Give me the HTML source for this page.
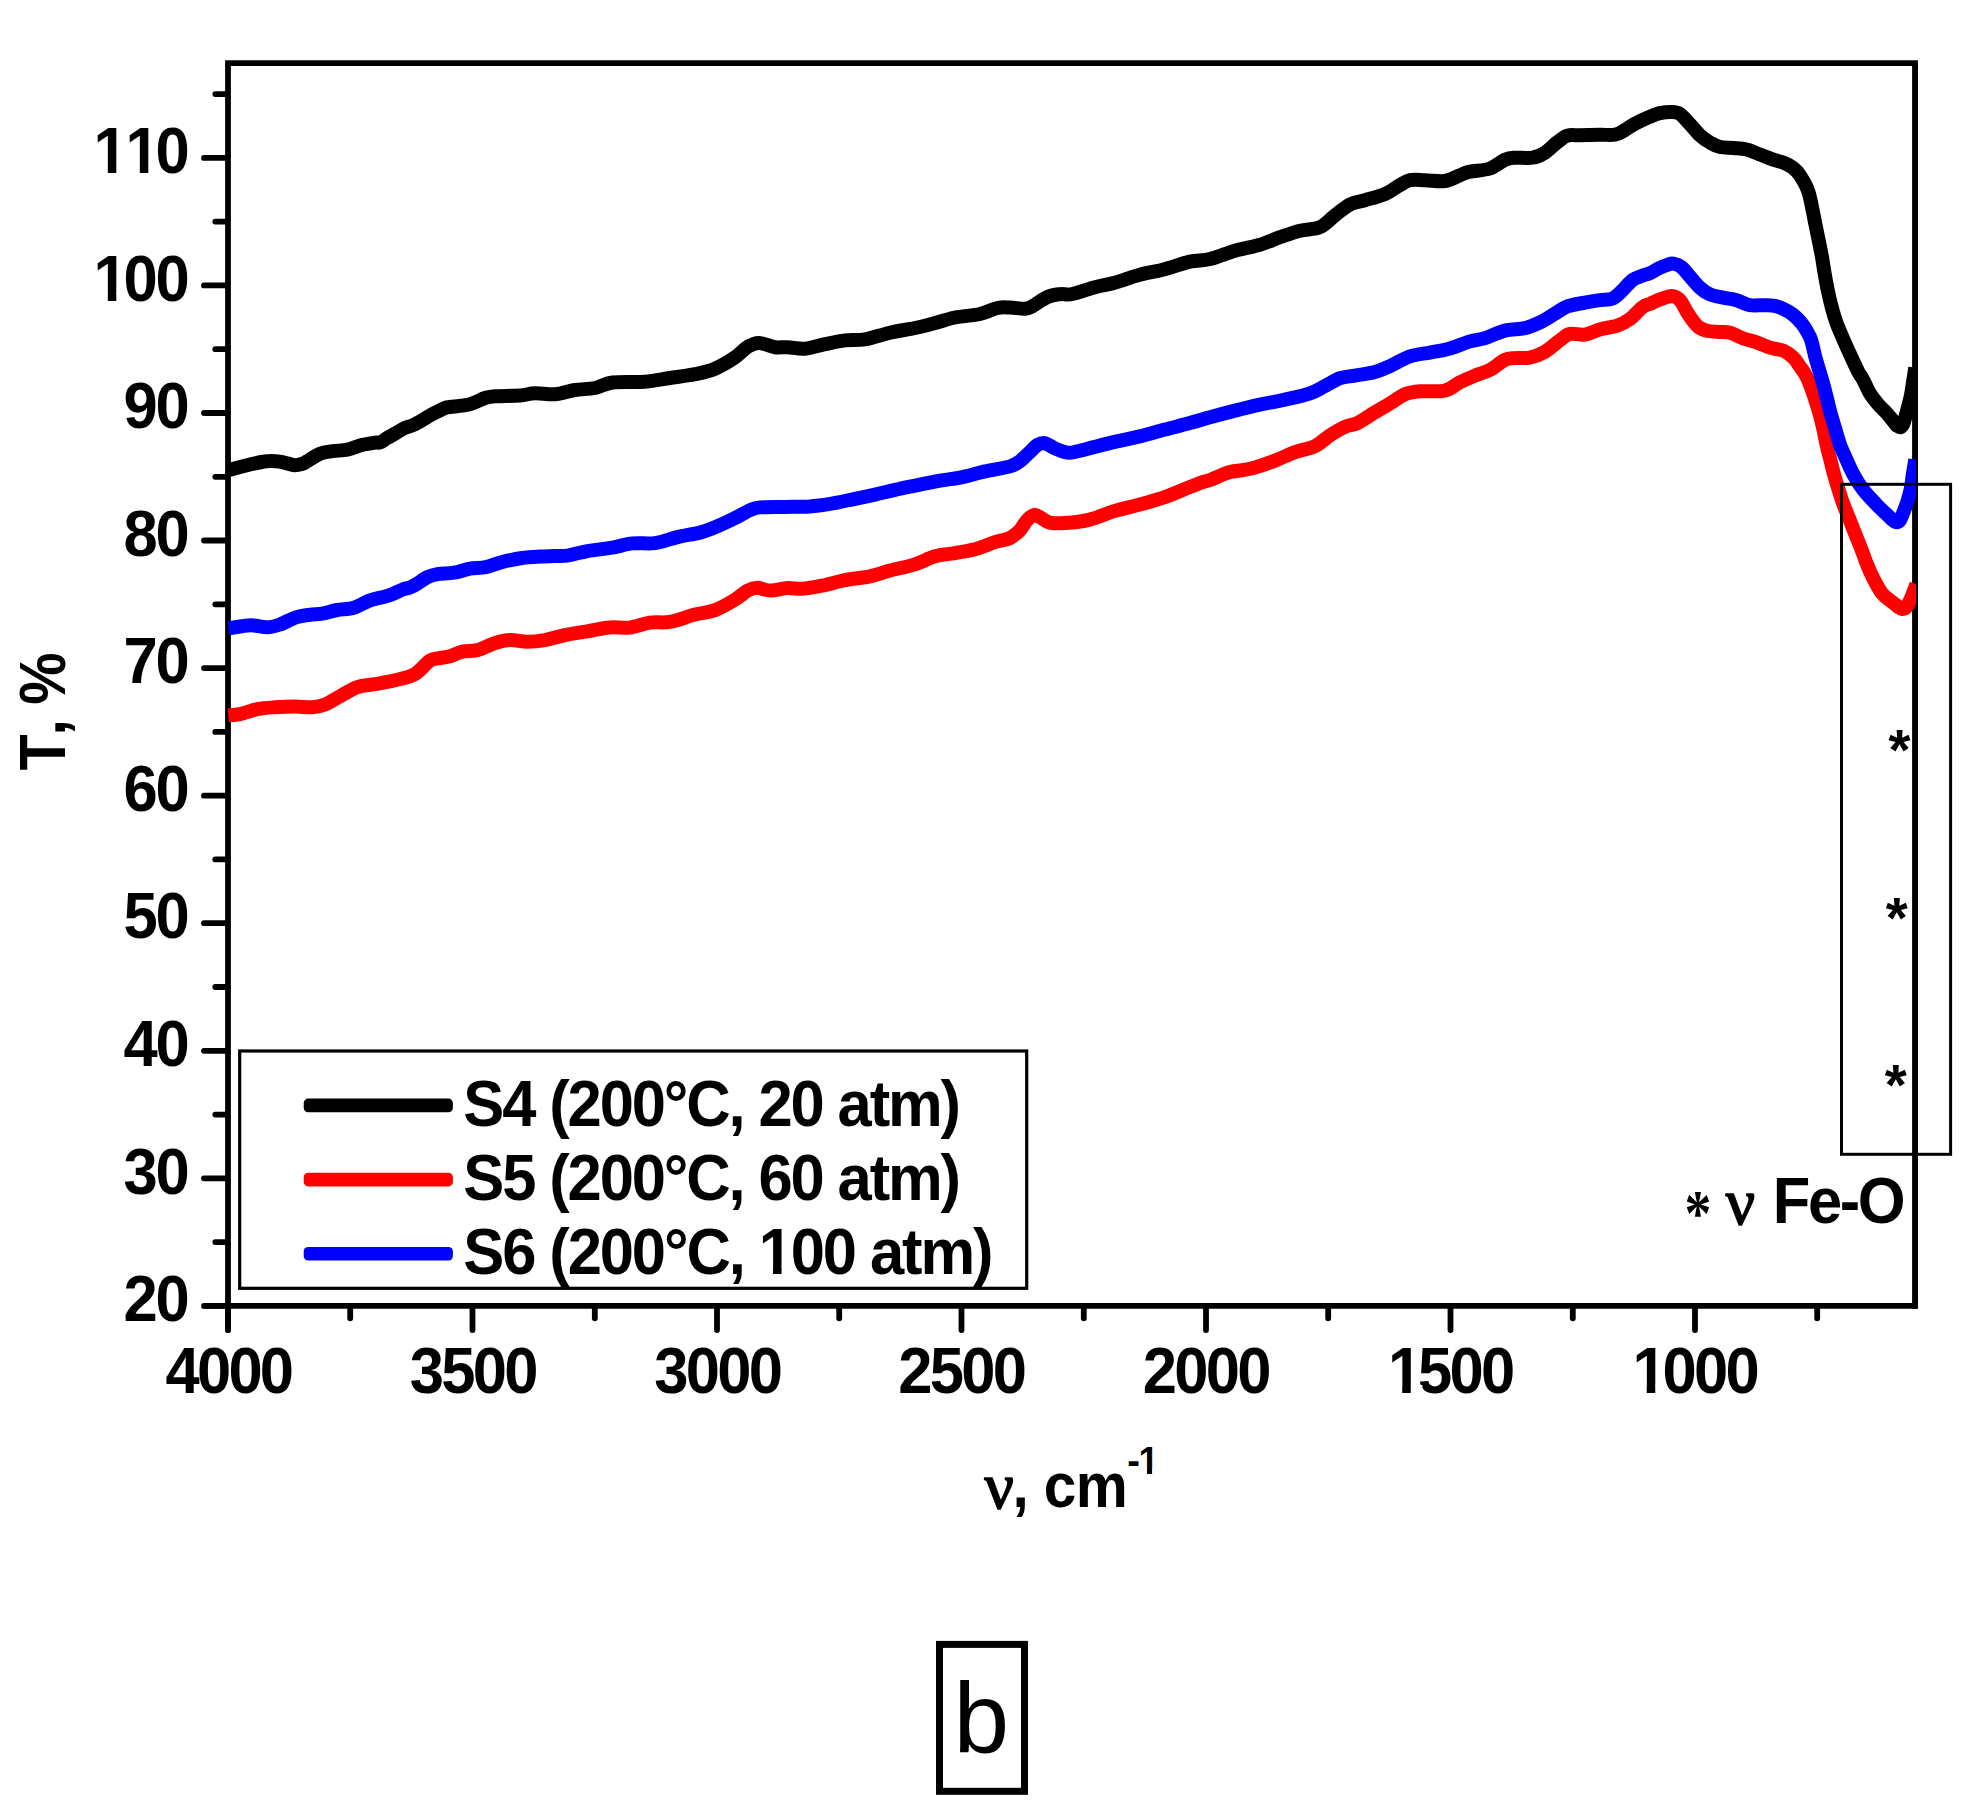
<!DOCTYPE html>
<html><head><meta charset="utf-8"><title>FTIR spectra b</title>
<style>html,body{margin:0;padding:0;background:#fff}svg{display:block}</style></head>
<body>
<svg width="1981" height="1810" viewBox="0 0 1981 1810">
<rect width="1981" height="1810" fill="#fff"/>
<defs><clipPath id="cp"><rect x="228" y="60" width="1688" height="1246"/></clipPath></defs>
<g stroke="#000" stroke-width="5.8" fill="none" stroke-linecap="round">
<path d="M228.0,63.1 V1330.2" stroke-linecap="butt"/>
<path d="M228.0,1329.9 v0.1"/>
<path d="M225.1,63.1 H1917.9" stroke-linecap="butt"/>
<path d="M1915.0,63.1 V1308.8000000000002" stroke-linecap="butt"/>
<path d="M203.8,1305.9 H1917.9" stroke-linecap="butt"/>
<path d="M204,1305.9 H227.0"/>
<path d="M204,1178.3 H227.0"/>
<path d="M204,1050.8 H227.0"/>
<path d="M204,923.2 H227.0"/>
<path d="M204,795.7 H227.0"/>
<path d="M204,668.1 H227.0"/>
<path d="M204,540.5 H227.0"/>
<path d="M204,413.0 H227.0"/>
<path d="M204,285.4 H227.0"/>
<path d="M204,157.9 H227.0"/>
<path d="M215.3,1242.1 H227.0"/>
<path d="M215.3,1114.6 H227.0"/>
<path d="M215.3,987.0 H227.0"/>
<path d="M215.3,859.4 H227.0"/>
<path d="M215.3,731.9 H227.0"/>
<path d="M215.3,604.3 H227.0"/>
<path d="M215.3,476.8 H227.0"/>
<path d="M215.3,349.2 H227.0"/>
<path d="M215.3,221.6 H227.0"/>
<path d="M215.3,94.1 H227.0"/>
<path d="M228.0,1306.9 V1330"/>
<path d="M472.5,1306.9 V1330"/>
<path d="M717.0,1306.9 V1330"/>
<path d="M961.5,1306.9 V1330"/>
<path d="M1206.0,1306.9 V1330"/>
<path d="M1450.5,1306.9 V1330"/>
<path d="M1695.0,1306.9 V1330"/>
<path d="M350.2,1306.9 V1318.3"/>
<path d="M594.8,1306.9 V1318.3"/>
<path d="M839.2,1306.9 V1318.3"/>
<path d="M1083.8,1306.9 V1318.3"/>
<path d="M1328.2,1306.9 V1318.3"/>
<path d="M1572.8,1306.9 V1318.3"/>
<path d="M1817.2,1306.9 V1318.3"/>
</g>
<g transform="translate(123.59,1321.10) scale(1,1.04)"><text font-family="Liberation Sans, Arial, sans-serif" font-weight="bold" font-size="61.5" letter-spacing="-2.200" style="font-kerning:none">20</text></g>
<g transform="translate(123.59,1193.54) scale(1,1.04)"><text font-family="Liberation Sans, Arial, sans-serif" font-weight="bold" font-size="61.5" letter-spacing="-2.200" style="font-kerning:none">30</text></g>
<g transform="translate(123.59,1065.98) scale(1,1.04)"><text font-family="Liberation Sans, Arial, sans-serif" font-weight="bold" font-size="61.5" letter-spacing="-2.200" style="font-kerning:none">40</text></g>
<g transform="translate(123.59,938.42) scale(1,1.04)"><text font-family="Liberation Sans, Arial, sans-serif" font-weight="bold" font-size="61.5" letter-spacing="-2.200" style="font-kerning:none">50</text></g>
<g transform="translate(123.59,810.86) scale(1,1.04)"><text font-family="Liberation Sans, Arial, sans-serif" font-weight="bold" font-size="61.5" letter-spacing="-2.200" style="font-kerning:none">60</text></g>
<g transform="translate(123.59,683.30) scale(1,1.04)"><text font-family="Liberation Sans, Arial, sans-serif" font-weight="bold" font-size="61.5" letter-spacing="-2.200" style="font-kerning:none">70</text></g>
<g transform="translate(123.59,555.74) scale(1,1.04)"><text font-family="Liberation Sans, Arial, sans-serif" font-weight="bold" font-size="61.5" letter-spacing="-2.200" style="font-kerning:none">80</text></g>
<g transform="translate(123.59,428.18) scale(1,1.04)"><text font-family="Liberation Sans, Arial, sans-serif" font-weight="bold" font-size="61.5" letter-spacing="-2.200" style="font-kerning:none">90</text></g>
<g transform="translate(91.51,300.62) scale(1,1.04)"><text dx="2 -2 0" font-family="Liberation Sans, Arial, sans-serif" font-weight="bold" font-size="61.5" letter-spacing="-2.200" style="font-kerning:none">100</text><rect x="3.23" y="-7.26" width="13.07" height="8.61" fill="#fff"/><rect x="24.83" y="-7.26" width="11.69" height="8.61" fill="#fff"/></g>
<g transform="translate(91.51,173.06) scale(1,1.04)"><text dx="2 0 -2" font-family="Liberation Sans, Arial, sans-serif" font-weight="bold" font-size="61.5" letter-spacing="-2.200" style="font-kerning:none">110</text><rect x="3.23" y="-7.26" width="13.07" height="8.61" fill="#fff"/><rect x="24.83" y="-7.26" width="11.69" height="8.61" fill="#fff"/><rect x="35.23" y="-7.26" width="13.07" height="8.61" fill="#fff"/><rect x="56.83" y="-7.26" width="11.69" height="8.61" fill="#fff"/></g>
<g transform="translate(165.38,1392.60) scale(1,1.05)"><text font-family="Liberation Sans, Arial, sans-serif" font-weight="bold" font-size="61.5" letter-spacing="-2.700" style="font-kerning:none">4000</text></g>
<g transform="translate(409.65,1392.60) scale(1,1.05)"><text font-family="Liberation Sans, Arial, sans-serif" font-weight="bold" font-size="61.5" letter-spacing="-2.700" style="font-kerning:none">3500</text></g>
<g transform="translate(654.15,1392.60) scale(1,1.05)"><text font-family="Liberation Sans, Arial, sans-serif" font-weight="bold" font-size="61.5" letter-spacing="-2.700" style="font-kerning:none">3000</text></g>
<g transform="translate(898.26,1392.60) scale(1,1.05)"><text font-family="Liberation Sans, Arial, sans-serif" font-weight="bold" font-size="61.5" letter-spacing="-2.700" style="font-kerning:none">2500</text></g>
<g transform="translate(1142.76,1392.60) scale(1,1.05)"><text font-family="Liberation Sans, Arial, sans-serif" font-weight="bold" font-size="61.5" letter-spacing="-2.700" style="font-kerning:none">2000</text></g>
<g transform="translate(1386.42,1392.60) scale(1,1.05)"><text dx="1.5 -1.5 0 0" font-family="Liberation Sans, Arial, sans-serif" font-weight="bold" font-size="61.5" letter-spacing="-2.700" style="font-kerning:none">1500</text><rect x="2.73" y="-7.26" width="13.07" height="8.61" fill="#fff"/><rect x="24.33" y="-7.26" width="11.69" height="8.61" fill="#fff"/></g>
<g transform="translate(1630.92,1392.60) scale(1,1.05)"><text dx="1.5 -1.5 0 0" font-family="Liberation Sans, Arial, sans-serif" font-weight="bold" font-size="61.5" letter-spacing="-2.700" style="font-kerning:none">1000</text><rect x="2.73" y="-7.26" width="13.07" height="8.61" fill="#fff"/><rect x="24.33" y="-7.26" width="11.69" height="8.61" fill="#fff"/></g>
<g transform="translate(65,769.9) rotate(-90) translate(-0.59,0.00) scale(1,1.087)"><text font-family="Liberation Sans, Arial, sans-serif" font-weight="bold" font-size="59" letter-spacing="-1.060" style="font-kerning:none">T, %</text></g>
<g transform="translate(984.44,1507.80) scale(1,1.0)"><text stroke="#000" stroke-width="1.6" stroke-linejoin="round" font-family="Liberation Serif, Times New Roman, serif" font-weight="normal" font-size="65" letter-spacing="0.000" style="font-kerning:none">ν</text></g>
<g transform="translate(1012.50,1506.80) scale(1,1.07)"><text font-family="Liberation Sans, Arial, sans-serif" font-weight="bold" font-size="58.5" letter-spacing="-0.632" style="font-kerning:none">, cm</text></g>
<g transform="translate(1127.28,1473.90) scale(1,1.04)"><text font-family="Liberation Sans, Arial, sans-serif" font-weight="bold" font-size="38" letter-spacing="0.000" style="font-kerning:none">-</text></g>
<g transform="translate(1138.52,1473.90) scale(1,1.04)"><text font-family="Liberation Sans, Arial, sans-serif" font-weight="bold" font-size="36.5" letter-spacing="0.000" style="font-kerning:none">1</text><rect x="0.73" y="-4.31" width="7.76" height="5.11" fill="#fff"/><rect x="13.55" y="-4.31" width="6.94" height="5.11" fill="#fff"/></g>
<rect x="239.7" y="1051" width="787" height="237.3" fill="#fff" stroke="#000" stroke-width="3.2"/>
<rect x="303.7" y="1098.6" width="149.2" height="13.6" rx="4.5" fill="#000"/>
<rect x="303.7" y="1172.8" width="149.2" height="13.6" rx="4.5" fill="#f00"/>
<rect x="303.7" y="1247.0" width="149.2" height="13.6" rx="4.5" fill="#00f"/>
<g transform="translate(463.35,1125.80) scale(1,1.04)"><text font-family="Liberation Sans, Arial, sans-serif" font-weight="bold" font-size="61.5" letter-spacing="-2.127" style="font-kerning:none">S4 (200°C, 20 atm)</text></g>
<g transform="translate(463.35,1199.70) scale(1,1.04)"><text font-family="Liberation Sans, Arial, sans-serif" font-weight="bold" font-size="61.5" letter-spacing="-2.127" style="font-kerning:none">S5 (200°C, 60 atm)</text></g>
<g transform="translate(463.35,1273.60) scale(1,1.04)"><text font-family="Liberation Sans, Arial, sans-serif" font-weight="bold" font-size="61.5" letter-spacing="-2.110" style="font-kerning:none">S6 (200°C, 100 atm)</text><rect x="296.60" y="-7.26" width="13.07" height="8.61" fill="#fff"/><rect x="318.20" y="-7.26" width="11.69" height="8.61" fill="#fff"/></g>
<g clip-path="url(#cp)" fill="none" stroke-width="14" stroke-linejoin="round" stroke-linecap="butt">
<path stroke="#000" d="M228.3,470.0C228.8,469.9 228.4,470.1 231.2,469.4C234.0,468.7 239.9,466.9 245.0,465.7C250.1,464.5 257.5,462.8 261.7,462.0C265.9,461.2 266.9,460.9 270.0,460.9C273.1,460.8 277.0,461.2 280.0,461.7C283.0,462.1 285.5,463.0 288.0,463.6C290.5,464.2 292.6,465.2 295.0,465.2C297.4,465.2 300.5,464.3 302.5,463.7C304.5,463.1 304.1,463.0 307.0,461.3C309.9,459.6 315.8,455.4 320.0,453.7C324.2,452.0 327.8,451.9 332.4,451.2C337.0,450.5 342.8,450.7 347.4,449.7C352.0,448.7 355.4,446.6 360.0,445.4C364.6,444.2 371.7,443.2 375.0,442.7C378.3,442.2 378.1,443.2 380.0,442.5C381.9,441.8 384.2,439.8 386.7,438.3C389.2,436.8 392.2,435.3 395.0,433.7C397.8,432.1 400.0,430.3 403.3,428.7C406.6,427.1 410.1,426.6 415.0,424.2C419.9,421.8 427.4,416.9 432.4,414.2C437.4,411.5 442.1,409.2 445.0,408.0C447.9,406.8 445.8,407.6 450.0,407.0C454.2,406.4 464.2,405.7 470.0,404.2C475.8,402.7 480.8,399.3 485.0,398.0C489.2,396.7 489.2,396.6 495.0,396.2C500.8,395.8 513.3,396.0 520.0,395.5C526.7,395.0 529.2,393.4 535.0,393.2C540.8,393.0 548.3,394.7 555.0,394.2C561.7,393.7 568.3,391.0 575.0,390.0C581.7,389.0 588.8,389.2 595.0,388.0C601.2,386.8 604.1,383.6 612.4,382.5C620.7,381.4 635.4,382.4 645.0,381.7C654.6,380.9 661.7,379.2 670.0,378.0C678.3,376.8 687.5,375.8 695.0,374.2C702.5,372.6 708.3,371.5 715.0,368.7C721.7,365.9 729.6,361.0 735.0,357.4C740.4,353.8 743.5,349.3 747.5,346.9C751.5,344.5 754.1,342.8 758.7,342.9C763.3,342.9 770.2,346.5 775.0,347.2C779.8,347.9 782.5,346.9 787.5,347.2C792.5,347.4 798.8,349.2 805.0,348.7C811.2,348.2 818.3,345.6 825.0,344.2C831.7,342.8 838.3,341.2 845.0,340.4C851.7,339.6 857.5,340.7 865.0,339.4C872.5,338.1 881.7,334.6 890.0,332.7C898.3,330.8 907.5,329.6 915.0,328.0C922.5,326.4 928.3,324.8 935.0,323.0C941.7,321.2 947.5,319.0 955.0,317.5C962.5,316.0 972.9,315.6 980.0,314.0C987.1,312.4 992.4,309.1 997.4,308.0C1002.4,306.9 1005.3,307.4 1009.9,307.5C1014.5,307.6 1021.2,308.9 1024.9,308.7C1028.7,308.5 1028.7,308.1 1032.4,306.2C1036.2,304.2 1042.8,299.0 1047.4,297.0C1052.0,295.0 1055.7,294.7 1059.9,294.2C1064.1,293.7 1066.6,295.2 1072.4,294.0C1078.2,292.8 1087.7,289.1 1094.8,287.2C1101.9,285.3 1107.3,284.8 1114.8,282.7C1122.3,280.6 1131.5,276.9 1139.8,274.7C1148.1,272.4 1156.5,271.4 1164.8,269.2C1173.1,267.0 1182.3,263.4 1189.8,261.7C1197.3,260.0 1202.5,260.8 1210.0,259.0C1217.5,257.2 1226.7,253.1 1235.0,250.7C1243.3,248.3 1252.5,246.9 1260.0,244.7C1267.5,242.4 1273.3,239.5 1280.0,237.2C1286.7,234.9 1293.3,232.4 1300.0,230.7C1306.7,229.0 1314.2,229.8 1320.0,227.2C1325.8,224.6 1330.0,219.2 1335.0,215.4C1340.0,211.6 1345.0,206.9 1350.0,204.4C1355.0,201.9 1359.2,201.9 1365.0,200.2C1370.8,198.5 1379.2,196.5 1385.0,194.0C1390.8,191.5 1395.8,187.3 1400.0,185.0C1404.2,182.7 1405.8,181.0 1410.0,180.2C1414.2,179.4 1419.2,180.1 1425.0,180.2C1430.8,180.3 1439.2,181.8 1445.0,181.0C1450.8,180.2 1455.8,176.8 1460.0,175.2C1464.2,173.6 1465.0,172.8 1470.0,171.7C1475.0,170.6 1484.2,170.5 1490.0,168.5C1495.8,166.5 1500.8,161.5 1505.0,159.7C1509.2,157.9 1510.4,158.0 1515.0,157.7C1519.6,157.4 1527.4,158.5 1532.4,157.7C1537.4,156.9 1540.7,155.3 1544.9,152.7C1549.1,150.1 1553.7,145.0 1557.4,142.2C1561.2,139.4 1563.7,136.9 1567.4,135.7C1571.2,134.5 1574.5,135.4 1579.9,135.2C1585.3,135.0 1594.1,134.8 1599.9,134.7C1605.7,134.6 1610.7,135.5 1614.9,134.7C1619.1,133.9 1621.6,131.8 1624.9,130.0C1628.2,128.2 1630.7,125.9 1634.9,123.7C1639.1,121.5 1645.7,118.5 1649.9,116.8C1654.1,115.0 1656.4,114.0 1660.0,113.2C1663.6,112.4 1668.4,111.9 1671.7,112.0C1675.0,112.1 1677.0,112.0 1680.0,114.0C1683.0,116.0 1686.7,120.7 1690.0,124.2C1693.3,127.8 1696.7,132.2 1700.0,135.3C1703.3,138.4 1706.7,140.6 1710.0,142.5C1713.3,144.4 1716.1,146.1 1720.0,147.0C1723.9,147.9 1728.9,147.6 1733.3,148.0C1737.7,148.4 1742.2,148.4 1746.6,149.5C1751.0,150.6 1755.5,152.8 1759.9,154.5C1764.4,156.2 1769.1,158.1 1773.3,159.6C1777.5,161.1 1781.6,161.9 1784.9,163.3C1788.2,164.7 1790.8,166.0 1793.3,168.0C1795.8,170.0 1797.5,171.6 1799.9,175.3C1802.3,179.0 1805.8,184.8 1807.8,190.0C1809.8,195.2 1810.7,201.0 1811.9,206.6C1813.1,212.2 1814.1,217.8 1815.2,223.3C1816.3,228.9 1817.5,234.3 1818.6,239.9C1819.7,245.5 1820.9,251.1 1821.9,256.6C1822.9,262.2 1823.6,267.6 1824.6,273.2C1825.6,278.8 1826.5,284.3 1827.7,289.9C1828.9,295.5 1830.1,301.1 1831.6,306.6C1833.1,312.2 1834.6,317.6 1836.6,323.2C1838.6,328.8 1841.2,334.3 1843.6,339.9C1846.0,345.4 1848.6,351.1 1851.1,356.5C1853.6,361.9 1856.7,368.8 1858.6,372.5C1860.5,376.2 1860.8,375.4 1862.7,378.8C1864.6,382.2 1867.3,389.0 1869.8,393.2C1872.3,397.4 1875.0,400.6 1877.9,404.0C1880.8,407.4 1884.9,411.0 1887.4,413.8C1889.9,416.6 1891.2,418.6 1892.8,420.6C1894.4,422.6 1896.1,424.8 1896.8,425.6C1897.4,425.9 1899.2,427.5 1900.3,427.2C1901.4,426.9 1902.5,425.4 1903.2,424.0C1904.0,422.6 1903.9,422.2 1904.8,419.0C1905.7,415.8 1907.6,408.9 1908.6,404.9C1909.6,400.9 1910.3,398.7 1911.0,395.2C1911.7,391.7 1912.1,387.9 1912.7,384.1C1913.3,380.4 1914.1,375.5 1914.5,372.7C1914.9,369.9 1915.2,368.4 1915.3,367.5"/>
<path stroke="#f00" d="M228.3,715.4C230.2,715.2 235.1,715.1 240.0,714.1C244.9,713.1 251.7,710.2 257.5,709.1C263.3,708.0 268.8,707.7 275.0,707.3C281.2,706.9 288.8,706.6 295.0,706.6C301.2,706.6 307.5,707.6 312.5,707.3C317.5,707.0 320.4,706.4 325.0,704.6C329.6,702.8 334.5,699.2 339.9,696.3C345.3,693.4 351.6,689.1 357.4,687.1C363.2,685.1 368.6,685.2 374.9,684.1C381.1,683.0 388.2,682.0 394.9,680.3C401.6,678.6 409.1,677.4 414.9,674.1C420.7,670.8 425.7,663.3 429.9,660.6C434.1,657.9 436.6,658.8 439.9,658.1C443.2,657.4 446.1,657.4 449.9,656.3C453.6,655.2 457.8,652.6 462.4,651.6C467.0,650.6 472.0,651.5 477.4,650.1C482.8,648.7 489.5,644.8 494.9,643.1C500.3,641.4 504.5,640.3 509.9,640.1C515.3,639.9 521.6,641.8 527.4,641.8C533.2,641.8 538.7,641.2 544.9,640.1C551.1,639.0 557.7,636.6 564.8,635.1C571.9,633.6 579.8,632.6 587.3,631.3C594.8,630.0 602.7,628.0 609.8,627.4C616.9,626.8 623.1,628.4 629.8,627.6C636.5,626.8 643.1,623.6 649.8,622.6C656.5,621.6 662.3,623.2 669.8,621.9C677.3,620.6 687.3,616.6 694.8,614.6C702.3,612.6 708.3,612.6 715.0,610.1C721.7,607.6 729.6,602.9 735.0,599.6C740.4,596.4 743.8,592.6 747.5,590.6C751.2,588.6 753.8,587.8 757.5,587.8C761.2,587.8 765.0,590.5 770.0,590.6C775.0,590.7 782.1,588.4 787.5,588.1C792.9,587.8 796.7,589.2 802.5,588.8C808.3,588.4 815.3,587.0 822.4,585.6C829.5,584.2 837.0,581.7 844.9,580.1C852.8,578.5 862.4,577.9 869.9,576.3C877.4,574.7 882.4,572.6 889.9,570.6C897.4,568.6 907.4,566.7 914.9,564.3C922.4,561.9 928.2,558.2 934.9,556.3C941.6,554.4 948.2,554.3 954.9,553.1C961.6,551.9 968.2,551.1 974.9,549.3C981.6,547.5 989.1,544.0 994.9,542.1C1000.7,540.2 1005.6,540.1 1009.8,538.1C1013.9,536.1 1016.9,533.3 1019.8,530.3C1022.7,527.3 1024.8,522.4 1027.3,519.9C1029.8,517.4 1032.3,515.3 1034.8,515.1C1037.3,514.9 1039.8,517.4 1042.3,518.6C1044.8,519.9 1046.0,521.9 1049.8,522.6C1053.5,523.4 1058.1,523.6 1064.8,523.1C1071.5,522.6 1081.5,521.6 1089.8,519.6C1098.1,517.6 1106.5,513.4 1114.8,510.9C1123.1,508.4 1131.5,506.9 1139.8,504.6C1148.1,502.3 1156.5,500.0 1164.8,497.1C1173.1,494.2 1183.5,489.6 1189.8,487.1C1196.0,484.6 1198.9,483.3 1202.3,482.1C1205.7,480.9 1205.4,481.7 1210.0,480.0C1214.6,478.3 1223.3,474.0 1230.0,472.1C1236.7,470.2 1242.5,470.7 1250.0,468.8C1257.5,466.9 1267.5,463.4 1275.0,460.6C1282.5,457.8 1288.3,454.5 1295.0,452.1C1301.7,449.7 1309.2,448.9 1315.0,446.1C1320.8,443.3 1325.0,438.5 1330.0,435.3C1335.0,432.1 1340.4,428.8 1345.0,426.8C1349.6,424.8 1352.4,425.5 1357.4,423.1C1362.4,420.7 1369.5,415.6 1374.9,412.3C1380.3,409.1 1384.9,406.6 1389.9,403.6C1394.9,400.6 1399.9,396.4 1404.9,394.3C1409.9,392.2 1413.2,391.9 1419.9,391.3C1426.6,390.7 1438.2,392.1 1444.9,390.6C1451.6,389.1 1454.9,384.8 1459.9,382.3C1464.9,379.8 1469.9,377.7 1474.9,375.6C1479.9,373.5 1484.9,372.5 1489.9,369.9C1494.9,367.3 1500.7,361.9 1504.8,359.9C1508.9,357.9 1510.6,358.5 1514.8,358.1C1519.0,357.7 1524.8,358.6 1529.8,357.6C1534.8,356.6 1539.8,354.8 1544.8,351.9C1549.8,349.0 1555.6,343.4 1559.8,340.4C1564.0,337.4 1565.6,334.9 1569.8,333.9C1574.0,332.9 1579.8,335.4 1584.8,334.6C1589.8,333.9 1594.4,330.9 1599.8,329.4C1605.2,327.9 1612.3,327.3 1617.3,325.6C1622.3,323.9 1625.6,322.1 1629.8,319.1C1634.0,316.1 1638.9,309.9 1642.3,307.4C1645.7,304.8 1647.0,305.1 1650.0,303.8C1653.0,302.5 1656.4,300.7 1660.0,299.4C1663.6,298.1 1668.4,295.8 1671.7,295.9C1675.0,296.0 1677.2,297.2 1680.0,300.2C1682.8,303.2 1685.2,309.7 1688.3,314.1C1691.3,318.6 1695.0,324.1 1698.3,326.9C1701.6,329.7 1704.7,330.2 1708.3,331.0C1711.9,331.8 1716.4,331.6 1720.0,331.9C1723.6,332.2 1726.1,331.6 1730.0,332.7C1733.9,333.8 1738.9,336.9 1743.3,338.5C1747.7,340.1 1752.2,340.9 1756.6,342.4C1761.0,343.9 1765.5,346.3 1769.9,347.7C1774.4,349.1 1779.4,349.0 1783.3,350.7C1787.2,352.4 1790.5,355.1 1793.3,357.7C1796.1,360.3 1797.8,363.6 1799.9,366.5C1802.0,369.4 1804.0,371.9 1805.7,375.0C1807.4,378.1 1808.5,380.8 1810.1,384.9C1811.7,389.0 1813.7,394.8 1815.3,399.8C1816.9,404.8 1818.4,409.7 1819.8,414.7C1821.2,419.7 1822.4,424.7 1823.5,429.7C1824.6,434.7 1825.4,439.6 1826.5,444.6C1827.6,449.6 1829.0,454.5 1830.3,459.5C1831.5,464.5 1832.6,469.4 1834.0,474.4C1835.4,479.4 1836.9,484.3 1838.5,489.3C1840.1,494.3 1841.6,499.2 1843.4,504.2C1845.2,509.2 1847.4,514.1 1849.4,519.1C1851.4,524.1 1853.3,529.1 1855.3,534.1C1857.3,539.1 1859.4,544.0 1861.3,549.0C1863.2,554.0 1864.8,558.9 1866.8,563.9C1868.8,568.9 1870.9,573.8 1873.5,578.8C1876.1,583.8 1879.1,589.9 1882.2,593.7C1885.3,597.5 1889.2,599.5 1892.0,601.8C1894.8,604.1 1897.8,606.5 1899.0,607.5C1899.5,607.8 1901.2,609.0 1902.3,609.1C1903.4,609.2 1904.5,608.9 1905.5,608.0C1906.5,607.1 1907.1,606.0 1908.2,604.0C1909.3,602.0 1910.9,598.5 1912.0,596.0C1913.1,593.5 1913.9,590.9 1914.6,589.0C1915.3,587.1 1916.0,585.2 1916.3,584.5"/>
<path stroke="#00f" d="M228.3,628.3C230.5,627.9 237.8,626.7 241.7,626.2C245.6,625.7 247.7,625.1 252.0,625.3C256.3,625.5 262.8,627.4 267.5,627.3C272.2,627.2 275.2,626.2 280.0,624.5C284.8,622.8 291.0,618.9 296.0,617.3C301.0,615.7 305.7,615.3 310.0,614.7C314.3,614.1 317.5,614.5 322.0,613.7C326.5,612.9 331.7,611.0 337.0,610.0C342.3,609.0 348.5,609.3 354.0,607.7C359.5,606.1 364.3,602.4 370.0,600.4C375.7,598.4 382.4,597.6 388.0,595.7C393.6,593.8 399.6,590.6 403.3,589.2C407.0,587.9 407.8,588.5 410.0,587.6C412.2,586.7 413.8,585.8 416.7,584.0C419.6,582.2 423.9,578.8 427.4,577.1C430.8,575.5 433.0,574.8 437.4,574.1C441.8,573.4 448.6,573.6 454.0,572.7C459.4,571.8 464.7,569.6 470.0,568.7C475.3,567.8 480.6,568.2 485.8,567.1C491.1,566.0 495.5,563.7 501.5,562.2C507.5,560.7 515.6,558.9 522.0,558.0C528.4,557.1 534.5,556.9 540.0,556.6C545.5,556.3 550.4,556.2 555.0,556.0C559.6,555.8 562.0,556.4 567.4,555.6C572.8,554.8 579.9,552.4 587.4,551.1C594.9,549.8 604.9,548.9 612.4,547.6C619.9,546.3 625.3,544.1 632.4,543.4C639.5,542.6 647.4,544.1 654.9,543.1C662.4,542.1 669.9,538.9 677.4,537.1C684.9,535.4 693.6,534.2 699.9,532.6C706.2,531.0 709.1,529.7 715.0,527.3C720.9,524.9 729.2,521.0 735.0,518.1C740.8,515.2 745.8,511.9 750.0,510.1C754.2,508.3 754.2,507.9 760.0,507.4C765.8,506.9 776.7,507.1 785.0,506.9C793.3,506.7 802.5,506.9 810.0,506.4C817.5,505.9 822.5,505.1 830.0,503.9C837.5,502.6 847.5,500.4 855.0,498.9C862.5,497.3 868.3,496.1 875.0,494.6C881.7,493.1 887.5,491.6 895.0,489.9C902.5,488.2 912.5,486.2 920.0,484.6C927.5,483.1 933.3,481.8 940.0,480.6C946.7,479.4 952.5,479.1 960.0,477.6C967.5,476.1 976.7,473.3 985.0,471.4C993.3,469.5 1004.2,468.1 1010.0,466.4C1015.8,464.7 1016.7,463.5 1020.0,461.1C1023.3,458.7 1027.1,454.6 1030.0,451.9C1032.9,449.2 1034.8,446.6 1037.3,445.1C1039.8,443.6 1041.9,442.6 1044.8,443.1C1047.7,443.7 1051.0,446.8 1054.8,448.4C1058.5,450.0 1063.5,452.1 1067.3,452.6C1071.0,453.1 1072.7,452.3 1077.3,451.4C1081.9,450.4 1088.5,448.5 1094.8,446.9C1101.0,445.3 1107.3,443.6 1114.8,441.9C1122.3,440.1 1131.5,438.4 1139.8,436.4C1148.1,434.3 1156.5,431.8 1164.8,429.6C1173.1,427.4 1182.3,425.2 1189.8,423.1C1197.3,421.1 1202.5,419.4 1210.0,417.3C1217.5,415.2 1226.7,412.7 1235.0,410.6C1243.3,408.5 1251.7,406.4 1260.0,404.6C1268.3,402.8 1276.7,401.5 1285.0,399.6C1293.3,397.7 1303.3,395.6 1310.0,393.3C1316.7,391.1 1320.0,388.6 1325.0,386.1C1330.0,383.6 1335.0,379.9 1340.0,378.1C1345.0,376.4 1349.2,376.6 1355.0,375.6C1360.8,374.6 1369.2,373.7 1375.0,372.1C1380.8,370.5 1384.2,368.7 1390.0,366.1C1395.8,363.5 1403.3,358.6 1410.0,356.4C1416.7,354.1 1423.3,353.9 1430.0,352.6C1436.7,351.3 1443.3,350.3 1450.0,348.4C1456.7,346.5 1464.2,343.1 1470.0,341.4C1475.8,339.7 1479.2,339.9 1485.0,338.1C1490.8,336.3 1498.3,332.3 1505.0,330.6C1511.7,328.9 1519.2,329.5 1525.0,328.1C1530.8,326.7 1535.0,324.8 1540.0,322.4C1545.0,320.0 1550.4,316.3 1555.0,313.6C1559.6,310.9 1562.4,308.2 1567.4,306.4C1572.4,304.6 1579.5,303.7 1584.9,302.6C1590.3,301.6 1595.3,300.8 1599.9,300.1C1604.5,299.4 1608.7,300.2 1612.4,298.6C1616.2,297.0 1619.1,293.5 1622.4,290.4C1625.7,287.3 1629.1,282.6 1632.4,280.1C1635.7,277.6 1639.5,276.8 1642.4,275.6C1645.3,274.5 1647.1,274.5 1650.0,273.2C1652.9,271.9 1657.1,269.1 1660.0,267.7C1662.9,266.3 1665.2,265.5 1667.4,264.8C1669.6,264.1 1670.9,263.3 1673.3,263.7C1675.7,264.1 1678.9,265.0 1681.7,267.2C1684.5,269.4 1687.0,273.2 1690.0,276.6C1693.0,280.0 1696.7,284.7 1700.0,287.7C1703.3,290.7 1706.1,292.7 1710.0,294.4C1713.9,296.1 1718.9,296.7 1723.3,297.7C1727.7,298.7 1732.2,298.9 1736.6,300.2C1741.0,301.4 1745.5,304.4 1749.9,305.2C1754.4,306.0 1759.4,305.1 1763.3,305.2C1767.2,305.3 1770.0,305.0 1773.3,305.6C1776.6,306.2 1780.0,307.3 1783.3,308.9C1786.6,310.4 1790.2,312.5 1793.3,314.9C1796.3,317.3 1799.3,320.4 1801.6,323.2C1803.9,326.0 1805.4,328.7 1807.0,331.5C1808.6,334.3 1809.7,335.7 1811.1,339.9C1812.5,344.1 1813.8,351.2 1815.2,356.5C1816.6,361.8 1818.2,366.8 1819.6,371.5C1821.0,376.2 1822.2,380.2 1823.5,384.9C1824.8,389.6 1826.0,394.8 1827.3,399.8C1828.5,404.8 1829.6,409.7 1831.0,414.7C1832.4,419.7 1834.0,424.7 1835.5,429.7C1837.0,434.7 1838.2,439.6 1840.0,444.6C1841.8,449.6 1844.2,454.5 1846.4,459.5C1848.6,464.5 1850.7,469.4 1853.4,474.4C1856.1,479.4 1859.0,484.3 1862.8,489.3C1866.6,494.3 1872.4,500.2 1876.2,504.2C1880.0,508.2 1882.8,510.7 1885.5,513.3C1888.2,515.9 1891.4,518.9 1892.6,520.0C1893.2,520.4 1895.1,522.2 1896.3,522.3C1897.5,522.4 1898.9,521.5 1899.8,520.5C1900.7,519.5 1900.5,519.5 1901.7,516.5C1902.9,513.5 1905.7,506.8 1907.2,502.2C1908.7,497.6 1909.9,493.2 1910.8,488.7C1911.7,484.2 1912.1,479.2 1912.7,475.1C1913.3,471.0 1914.1,466.9 1914.5,464.3C1914.9,461.7 1915.2,460.1 1915.3,459.3"/>
</g>
<path d="M1917,63.1 V1305.9" stroke="#000" stroke-width="2" fill="none"/>
<rect x="1841.5" y="484.3" width="109.1" height="670" fill="none" stroke="#000" stroke-width="3"/>
<text x="1888.48" y="769.92" font-family="Liberation Sans, Arial, sans-serif" font-weight="bold" font-size="56.5">*</text>
<text x="1885.68" y="938.32" font-family="Liberation Sans, Arial, sans-serif" font-weight="bold" font-size="56.5">*</text>
<text x="1884.68" y="1105.02" font-family="Liberation Sans, Arial, sans-serif" font-weight="bold" font-size="56.5">*</text>
<text transform="translate(1684.52,1235.36) scale(0.827,1)" font-family="Liberation Serif, Times New Roman, serif" font-weight="bold" font-size="65">*</text>
<g transform="translate(1725.64,1223.80) scale(1,1.0)"><text stroke="#000" stroke-width="1.6" stroke-linejoin="round" font-family="Liberation Serif, Times New Roman, serif" font-weight="normal" font-size="65" letter-spacing="0.000" style="font-kerning:none">ν</text></g>
<g transform="translate(1772.85,1223.40) scale(1,1.045)"><text font-family="Liberation Sans, Arial, sans-serif" font-weight="bold" font-size="61.5" letter-spacing="-2.434" style="font-kerning:none">Fe-O</text></g>
<rect x="939.5" y="1644.4" width="85" height="146.9" fill="none" stroke="#000" stroke-width="7"/>
<text x="953.4" y="1752.8" font-family="Liberation Sans, Arial, sans-serif" font-size="100">b</text>
</svg>
</body></html>
